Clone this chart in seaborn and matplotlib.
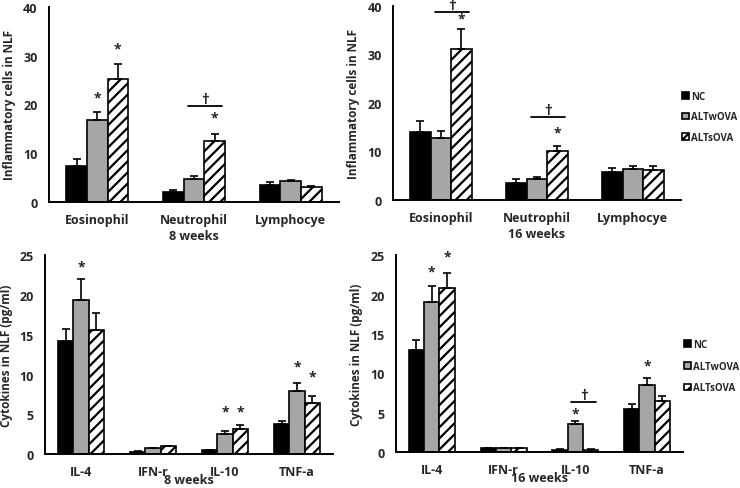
import pandas as pd
import numpy as np
import matplotlib.pyplot as plt
import seaborn as sns

groups = ["NC", "ALTwOVA", "ALTsOVA"]
cells = ["Eosinophil", "Neutrophil", "Lymphocye"]
cytokines = ["IL-4", "IFN-r", "IL-10", "TNF-a"]

# 8 weeks, inflammatory cells
cell8_nc = [7.4, 2.05, 3.5]
cell8_w = [16.7, 4.8, 4.2]
cell8_s = [25.2, 12.5, 3.1]
cell8_nc_err = [1.4, 0.45, 0.6]
cell8_w_err = [1.8, 0.5, 0.3]
cell8_s_err = [3.1, 1.5, 0.15]

# 16 weeks, inflammatory cells
cell16_nc = [14.0, 3.6, 5.7]
cell16_w = [12.8, 4.3, 6.4]
cell16_s = [31.1, 10.1, 6.1]
cell16_nc_err = [2.2, 0.7, 0.9]
cell16_w_err = [1.4, 0.5, 0.7]
cell16_s_err = [4.1, 1.1, 0.8]

# 8 weeks, cytokines
cyt8_nc = [14.2, 0.3, 0.45, 3.8]
cyt8_w = [19.4, 0.75, 2.55, 7.9]
cyt8_s = [15.6, 0.96, 3.2, 6.45]
cyt8_nc_err = [1.5, 0.07, 0.05, 0.4]
cyt8_w_err = [2.6, 0.05, 0.35, 1.0]
cyt8_s_err = [2.1, 0.04, 0.4, 0.85]

# 16 weeks, cytokines
cyt16_nc = [13.0, 0.45, 0.3, 5.5]
cyt16_w = [19.1, 0.5, 3.5, 8.5]
cyt16_s = [20.8, 0.5, 0.3, 6.5]
cyt16_nc_err = [1.2, 0.05, 0.05, 0.6]
cyt16_w_err = [2.0, 0.05, 0.4, 0.95]
cyt16_s_err = [1.9, 0.05, 0.05, 0.6]

# significance marks: (category index, group index, y)
stars_cell8 = [(0, 1, 21.4), (0, 2, 31.5), (1, 2, 17.3)]
stars_cell16 = [(0, 2, 37.4), (1, 2, 14.0)]
stars_cyt8 = [(0, 1, 23.6), (2, 1, 5.4), (2, 2, 5.4), (3, 1, 11.0), (3, 2, 9.8)]
stars_cyt16 = [(0, 1, 22.9), (0, 2, 24.9), (2, 1, 4.85), (3, 1, 11.05)]
# dagger lines: (category index, y)
dag_cell8 = [(1, 19.6)]
dag_cell16 = [(0, 38.7), (1, 17.0)]
dag_cyt8 = []
dag_cyt16 = [(2, 6.3)]

colors = ["black", "#a6a6a6", "white"]

sns.set_style("white")
plt.rcParams["font.family"] = ["Open Sans", "DejaVu Sans"]
plt.rcParams["font.weight"] = "bold"
plt.rcParams["hatch.linewidth"] = 1.6

fig = plt.figure(figsize=(7.4, 4.89), dpi=100)


def panel(rect, cats, vals, errs, ymax, ystep, ylabel, xlabel, stars, dags, top):
    ax = fig.add_axes(rect)
    df = pd.DataFrame({
        "cat": cats * 3,
        "grp": [g for g in groups for _ in cats],
        "val": vals[0] + vals[1] + vals[2],
    })
    sns.barplot(data=df, x="cat", y="val", hue="grp", order=cats, hue_order=groups,
                palette=colors, width=0.64, gap=0, edgecolor="black", linewidth=1.2,
                errorbar=None, legend=False, ax=ax)
    bars = list(ax.containers)[:3]
    for i, cont in enumerate(bars):
        xs = [b.get_x() + b.get_width() / 2 for b in cont]
        ys = [b.get_height() for b in cont]
        if i == 2:
            for b in cont:
                b.set_hatch("///")
        ax.errorbar(xs, ys, yerr=[np.zeros(len(ys)), errs[i]], fmt="none",
                    ecolor="black", elinewidth=1.2, capsize=3, capthick=1.2)
    w = bars[0][0].get_width()
    for c, g, y in stars:
        ax.text(c + (g - 1) * w, y, "*", ha="center", va="center", fontsize=10,
                fontweight="bold")
    for c, y in dags:
        ax.plot([c - 0.06, c + w + 0.08], [y, y], color="black", lw=1.3, clip_on=False)
        ax.text(c + w / 2 + 0.01, y, "\u2020",
                ha="center", va="bottom", fontsize=11, fontweight="bold", clip_on=False)
    n = len(cats)
    ax.set_xlim(-0.5, n - 0.5)
    ax.set_ylim(0, ymax)
    ax.set_yticks(np.arange(0, ymax + 0.1, ystep))
    ax.set_xticks(np.arange(-0.5, n, 1.0), minor=True)
    ax.tick_params(axis="x", which="major", length=0, labelsize=9, pad=8)
    ax.tick_params(axis="x", which="minor", length=4, width=1.3, direction="out")
    ax.tick_params(axis="y", length=4, width=1.3, direction="out", labelsize=9, pad=4)
    for lab in ax.get_xticklabels() + ax.get_yticklabels():
        lab.set_fontweight("bold")
    sns.despine(ax=ax)
    for s in ["left", "bottom"]:
        ax.spines[s].set_linewidth(1.4)
        ax.spines[s].set_color("black")
    ax.set_ylabel(ylabel, fontsize=8.5, fontweight="bold", labelpad=5)
    ax.set_xlabel(xlabel, fontsize=9, fontweight="bold", labelpad=(2 if top else -3.5))
    return ax, bars


ax1, b1 = panel([0.066, 0.585, 0.392, 0.399], cells, [cell8_nc, cell8_w, cell8_s],
                [cell8_nc_err, cell8_w_err, cell8_s_err], 40, 10,
                "Inflammatory cells in NLF", "8 weeks", stars_cell8, dag_cell8, True)
ax2, b2 = panel([0.531, 0.589, 0.389, 0.397], cells, [cell16_nc, cell16_w, cell16_s],
                [cell16_nc_err, cell16_w_err, cell16_s_err], 40, 10,
                "Inflammatory cells in NLF", "16 weeks", stars_cell16, dag_cell16, True)
ax3, b3 = panel([0.061, 0.0695, 0.389, 0.4065], cytokines, [cyt8_nc, cyt8_w, cyt8_s],
                [cyt8_nc_err, cyt8_w_err, cyt8_s_err], 25, 5,
                "Cytokines in NLF (pg/ml)", "8 weeks", stars_cyt8, dag_cyt8, False)
ax4, b4 = panel([0.535, 0.0736, 0.388, 0.4024], cytokines, [cyt16_nc, cyt16_w, cyt16_s],
                [cyt16_nc_err, cyt16_w_err, cyt16_s_err], 25, 5,
                "Cytokines in NLF (pg/ml)", "16 weeks", stars_cyt16, dag_cyt16, False)

for bars, anchor, sp in [(b2, (0.9216, 0.759), 1.0), (b4, (0.924, 0.249), 1.1)]:
    handles = [c[0] for c in bars]
    fig.legend(handles, groups, loc="center left", bbox_to_anchor=anchor, frameon=False,
               handlelength=0.7, handleheight=0.7, handletextpad=0.25, labelspacing=sp,
               borderpad=0, borderaxespad=0,
               prop={"size": 7.0, "weight": "bold"})

fig.savefig("out.png", dpi=100)
